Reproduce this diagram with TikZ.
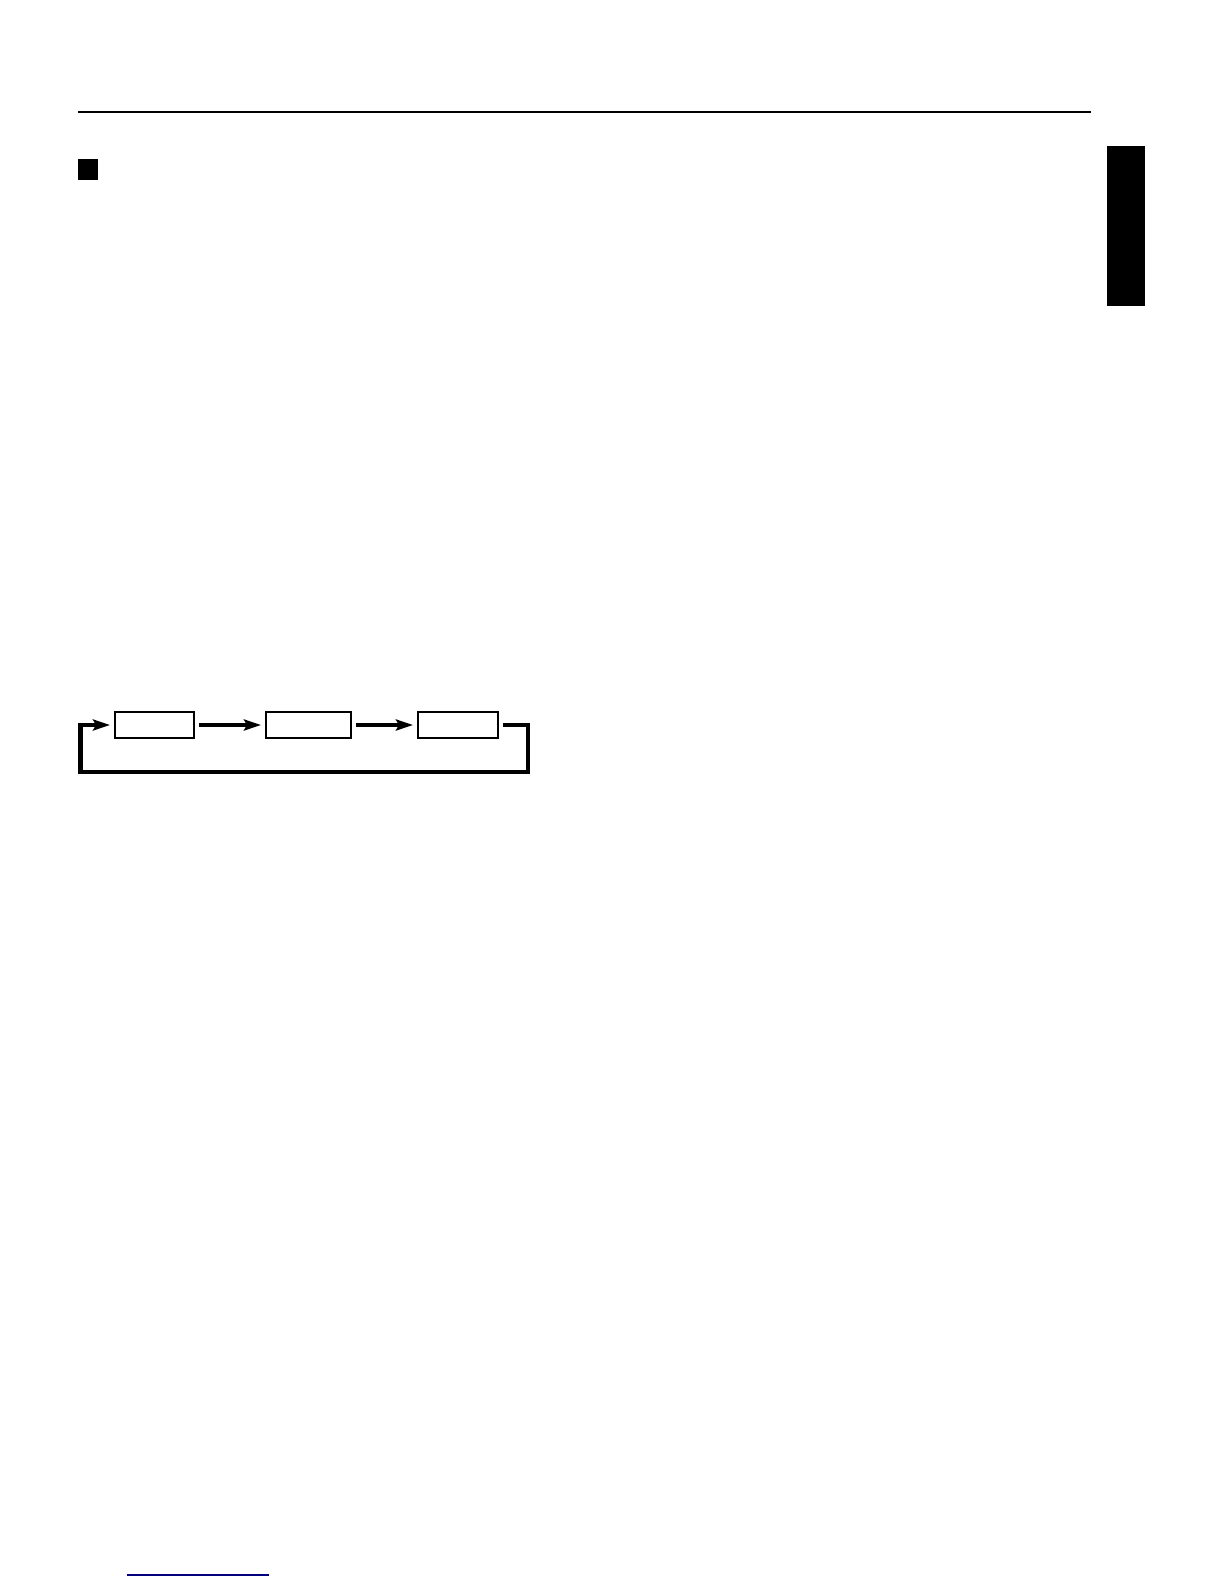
\documentclass[tikz,border=0pt]{standalone}
\usepackage{tikz}
\usetikzlibrary{arrows.meta}

\begin{document}
\begin{tikzpicture}[x=0.5pt, y=-0.5pt,
    blank/.style={draw, line width=0.6pt, inner sep=0pt, outer sep=2.5pt, minimum height=13pt},
    flow/.style={line width=2.2pt, -{Stealth[length=8.5pt, width=5.5pt, inset=1.5pt]}},
    loopline/.style={line width=2.2pt, line join=miter}]
            \useasboundingbox (0,0) rectangle (1224,1584);

            % Page rule, section mark and side tab
            \draw[line width=1.1pt] (78,112) -- (1091,112);
            \fill (78,159) rectangle (98,180);
            \fill (1107,146) rectangle (1145,306);

            % Cycle of three steps
            \node[blank, minimum width=39.5pt] (first) at (154.5,725) {};
            \node[blank, minimum width=42.5pt] (second) at (308.5,725) {};
            \node[blank, minimum width=40pt] (third) at (458,725) {};
            \coordinate (backR) at (528,772);
            \coordinate (backL) at (80.5,772);

            \draw[flow] (first) -- (second);
            \draw[flow] (second) -- (third);
            \draw[loopline, flow] (third.east) -| (backR) -- (backL) |- (first.west);

            % Footer rule
            \draw[line width=0.8pt, blue!50!black] (127,1575) -- (269,1575);
        \end{tikzpicture}
\end{document}
